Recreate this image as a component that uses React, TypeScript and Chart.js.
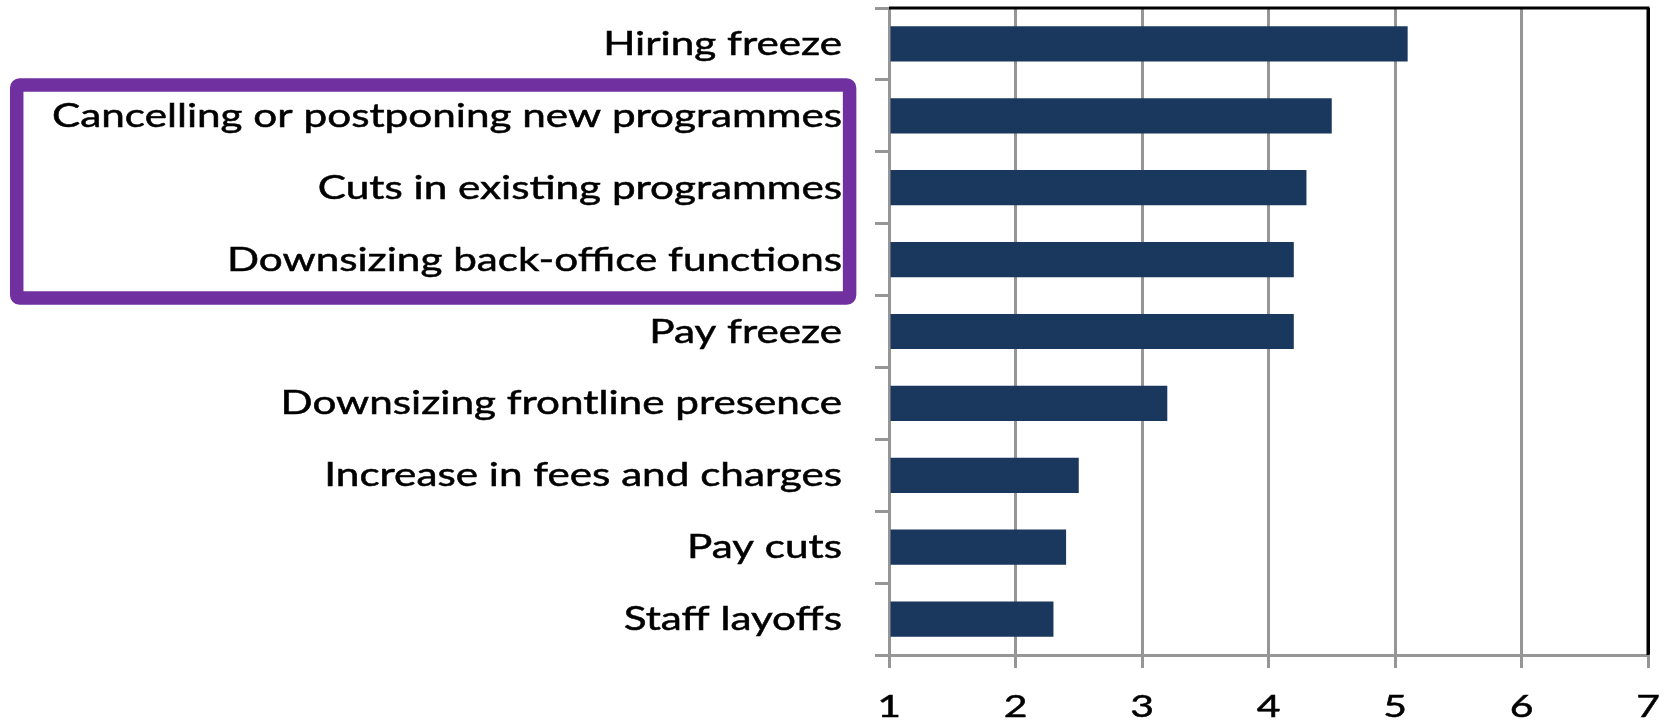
import React, { useEffect, useRef } from "react";
import { Chart, registerables } from "chart.js";

Chart.register(...registerables);

const categories = [
  "Hiring freeze",
  "Cancelling or postponing new programmes",
  "Cuts in existing programmes",
  "Downsizing back-office functions",
  "Pay freeze",
  "Downsizing frontline presence",
  "Increase in fees and charges",
  "Pay cuts",
  "Staff layoffs",
];
const values = [5.1, 4.5, 4.3, 4.2, 4.2, 3.2, 2.5, 2.4, 2.3];
const xTickValues = [1, 2, 3, 4, 5, 6, 7];
const xMin = 1;
const xMax = 7;
const highlightedFrom = 1;
const highlightedTo = 3;

const W = 1665;
const H = 722;
const FONT = "Lato, 'Open Sans', sans-serif";
const LABEL_SIZE = 32;
const LABEL_STRETCH = 1.32;

function drawStretched(ctx: any, text: string, x: number, y: number, align: string) {
  ctx.save();
  ctx.translate(x, y);
  ctx.scale(LABEL_STRETCH, 1);
  ctx.textAlign = align;
  ctx.fillText(text, 0, 0);
  ctx.strokeText(text, 0, 0);
  ctx.restore();
}

const framePlugin = {
  id: "frame",
  afterDraw(chart: any) {
    const { ctx, chartArea } = chart;
    const y = chart.scales.y;
    const x = chart.scales.x;
    ctx.save();
    // top and right border of plot area
    ctx.strokeStyle = "#000000";
    ctx.lineWidth = 3;
    ctx.beginPath();
    ctx.moveTo(chartArea.left, chartArea.top);
    ctx.lineTo(chartArea.right, chartArea.top);
    ctx.lineTo(chartArea.right, chartArea.bottom);
    ctx.stroke();

    // category labels and value tick labels (horizontally stretched like the original)
    ctx.fillStyle = "#000000";
    ctx.strokeStyle = "#000000";
    ctx.lineWidth = 0.5;
    ctx.font = `${LABEL_SIZE}px ${FONT}`;
    ctx.textBaseline = "alphabetic";
    const labelRight = chartArea.left - 47;
    categories.forEach((label, i) => {
      drawStretched(ctx, label, labelRight, y.getPixelForValue(i) + 11, "right");
    });
    ctx.font = `31px ${FONT}`;
    xTickValues.forEach((v) => {
      drawStretched(ctx, String(v), x.getPixelForValue(v), chartArea.bottom + 62, "center");
    });

    // purple highlight box around selected labels
    const step = (y.bottom - y.top) / categories.length;
    const top = y.getPixelForValue(highlightedFrom) - step / 2 + 5;
    const bottom = y.getPixelForValue(highlightedTo) + step / 2 + 2.5;
    const left = 16.7;
    const right = 849.6;
    ctx.strokeStyle = "#7030A0";
    ctx.lineWidth = 13.5;
    ctx.lineJoin = "round";
    ctx.beginPath();
    if ((ctx as any).roundRect) {
      (ctx as any).roundRect(left, top, right - left, bottom - top, 3);
    } else {
      ctx.rect(left, top, right - left, bottom - top);
    }
    ctx.stroke();
    ctx.restore();
  },
};

export default function App() {
  const ref = useRef<HTMLCanvasElement | null>(null);

  useEffect(() => {
    document.body.style.margin = "0";
    const canvas = ref.current;
    if (!canvas) return;
    const chart = new Chart(canvas, {
      type: "bar",
      data: {
        labels: categories,
        datasets: [
          {
            data: values,
            base: xMin,
            backgroundColor: "#1A375D",
            borderWidth: 0,
            barPercentage: 0.49,
            categoryPercentage: 1,
          } as any,
        ],
      },
      options: {
        indexAxis: "y",
        responsive: false,
        devicePixelRatio: 1,
        animation: false,
        layout: { padding: { top: 8, right: 17, left: 0, bottom: 0 } },
        plugins: {
          legend: { display: false },
          tooltip: { enabled: false },
        },
        scales: {
          x: {
            type: "linear",
            min: xMin,
            max: xMax,
            afterFit: (s: any) => {
              s.height = 67;
              s.paddingLeft = 0;
              s.paddingRight = 0;
            },
            ticks: {
              stepSize: 1,
              color: "rgba(0,0,0,0)",
              padding: 17,
              font: { family: FONT, size: 31 },
            },
            grid: {
              color: (c: any) => (c.tick && c.tick.value === xMax ? "#000000" : "#969696"),
              lineWidth: 3,
              drawTicks: true,
              tickLength: 13,
              tickColor: "#969696",
            },
            border: { display: true, color: "#969696", width: 3 },
          },
          y: {
            afterFit: (s: any) => {
              s.width = 889;
              s.paddingTop = 0;
              s.paddingBottom = 0;
            },
            ticks: {
              color: "rgba(0,0,0,0)",
              padding: 32,
              autoSkip: false,
              font: { family: FONT, size: LABEL_SIZE },
            },
            grid: {
              offset: true,
              drawOnChartArea: false,
              drawTicks: true,
              tickLength: 14,
              color: "#969696",
              lineWidth: 3,
            },
            border: { display: true, color: "#969696", width: 3 },
          },
        },
      },
      plugins: [framePlugin],
    });
    return () => chart.destroy();
  }, []);

  return (
    <div style={{ width: W, height: H, background: "#ffffff" }}>
      <canvas ref={ref} width={W} height={H} style={{ display: "block" }} />
    </div>
  );
}
